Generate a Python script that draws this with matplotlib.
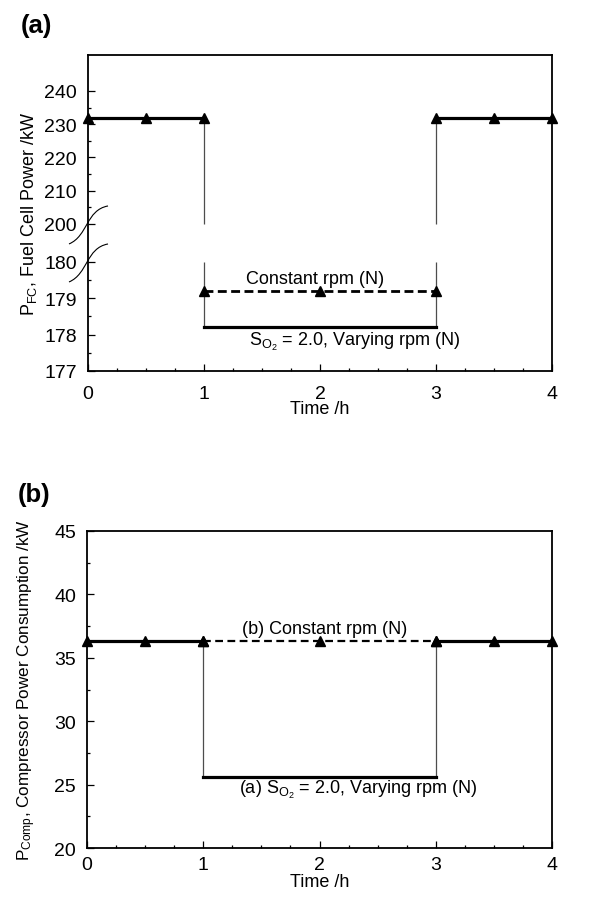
import numpy as np
import matplotlib
matplotlib.use("Agg")
import matplotlib.pyplot as plt
from matplotlib import transforms as mtransforms
from matplotlib.path import Path
from matplotlib.patches import PathPatch
from matplotlib.ticker import FixedLocator

plt.rcParams["font.family"] = ["Liberation Sans", "DejaVu Sans"]
plt.rcParams["mathtext.fontset"] = "custom"
plt.rcParams["mathtext.rm"] = "Liberation Sans"
plt.rcParams["mathtext.it"] = "Liberation Sans:italic"
plt.rcParams["mathtext.default"] = "regular"

# ---- data -------------------------------------------------------------
t_start = [0, 0.5, 1]          # nominal load, first hour
t_mid = [1, 2, 3]              # reduced load period
t_end = [3, 3.5, 4]            # nominal load, last hour

pfc_nominal = 232.0            # fuel cell power at nominal load /kW
pfc_const_rpm = 179.2          # reduced load, constant compressor speed
pfc_vary_rpm = 178.2           # reduced load, S_O2 = 2.0 with varying speed

pcomp_nominal = 36.3           # compressor power at nominal load /kW
pcomp_const_rpm = 36.3
pcomp_vary_rpm = 25.6

time_ticks = [0, 1, 2, 3, 4]
pfc_ticks = [177, 178, 179, 180, 200, 210, 220, 230, 240]
pfc_minor = [177.5, 178.5, 179.5, 205, 215, 225, 235]
pcomp_ticks = [20, 25, 30, 35, 40, 45]
pcomp_minor = [22.5, 27.5, 32.5, 37.5, 42.5]
break_levels = [180, 200]

# broken fuel-cell axis: 177-180 stretched, gap 180-200, then 200-250
brk_vals = [150.0, 177.0, 180.0, 200.0, 240.0, 260.0]
brk_pos = [-981.0, 0.0, 109.0, 147.0, 280.0, 346.5]


def fwd(v):
    return np.interp(v, brk_vals, brk_pos)


def inv(p):
    return np.interp(p, brk_pos, brk_vals)


W, H = 589, 904
fig = plt.figure(figsize=(W / 100, H / 100), dpi=100)
ax1 = fig.add_axes([88 / W, 1 - 372 / H, 464 / W, 316 / H])
ax2 = fig.add_axes([87 / W, 1 - 849 / H, 465 / W, 317 / H])

FS = 13
TICK_FS = 14
THICK = 2.3
MS = 7
vcol = "0.3"


def style(ax, xpad):
    for s in ax.spines.values():
        s.set_linewidth(1.3)
    ax.set_xlim(0, 4)
    ax.set_xticks(time_ticks)
    ax.xaxis.set_minor_locator(FixedLocator(np.arange(0, 4.01, 0.25)))
    ax.tick_params(which="both", direction="in", top=False, right=False,
                   labelsize=TICK_FS, width=0.9)
    ax.tick_params(which="major", length=5)
    ax.tick_params(which="minor", length=2.5)
    ax.tick_params(axis="y", pad=8)
    ax.tick_params(axis="x", pad=xpad)


# ---- (a) fuel cell power ---------------------------------------------
ax1.set_yscale("function", functions=(fwd, inv))
ax1.set_ylim(177, 250.8)
style(ax1, 10)
ax1.set_yticks(pfc_ticks)
ax1.set_yticklabels([str(v) for v in pfc_ticks])
ax1.yaxis.set_minor_locator(FixedLocator(pfc_minor))

ax1.vlines([t_mid[0], t_mid[-1]], pfc_vary_rpm, break_levels[0], color=vcol, lw=0.9)
ax1.vlines([t_mid[0], t_mid[-1]], break_levels[1], pfc_nominal, color=vcol, lw=0.9)
ax1.plot(t_start, [pfc_nominal] * 3, color="k", lw=THICK, marker="^", ms=MS,
         clip_on=False, zorder=5)
ax1.plot(t_end, [pfc_nominal] * 3, color="k", lw=THICK, marker="^", ms=MS,
         clip_on=False, zorder=5)
ax1.plot(t_mid, [pfc_const_rpm] * 3, color="k", lw=2.0, ls=(0, (3.2, 1.6)),
         marker="^", ms=MS, zorder=5)
ax1.plot([t_mid[0], t_mid[-1]], [pfc_vary_rpm] * 2, color="k", lw=THICK, zorder=5)

ax1.annotate("Constant rpm (N)", (1.96, pfc_const_rpm), xytext=(0, 3),
             textcoords="offset points", ha="center", va="bottom", fontsize=FS)
ax1.annotate("S$_{O_2}$ = 2.0, Varying rpm (N)", (2.30, pfc_vary_rpm),
             xytext=(0, -2), textcoords="offset points", ha="center", va="top",
             fontsize=FS)

ax1.set_xlabel("Time /h", fontsize=FS, labelpad=-1)
ax1.set_ylabel("P$_{FC}$, Fuel Cell Power /kW", fontsize=FS)
ax1.yaxis.set_label_coords(-0.105, 0.5)

# break marks across the left spine
curve = Path([(-0.19, -0.20), (0.0, -0.12), (-0.02, 0.14), (0.20, 0.18)],
             [Path.MOVETO, Path.CURVE4, Path.CURVE4, Path.CURVE4])
for lvl in break_levels:
    tr = fig.dpi_scale_trans + mtransforms.ScaledTranslation(
        0, lvl, ax1.get_yaxis_transform())
    ax1.add_patch(PathPatch(curve, transform=tr, fill=False, lw=0.8,
                            ec="k", clip_on=False, zorder=6))

# ---- (b) compressor power --------------------------------------------
ax2.set_ylim(20, 45)
style(ax2, 6)
ax2.set_yticks(pcomp_ticks)
ax2.yaxis.set_minor_locator(FixedLocator(pcomp_minor))

ax2.vlines([t_mid[0], t_mid[-1]], pcomp_vary_rpm, pcomp_nominal, color=vcol, lw=0.9)
ax2.plot(t_start, [pcomp_nominal] * 3, color="k", lw=THICK, marker="^", ms=MS,
         clip_on=False, zorder=5)
ax2.plot(t_end, [pcomp_nominal] * 3, color="k", lw=THICK, marker="^", ms=MS,
         clip_on=False, zorder=5)
ax2.plot(t_mid, [pcomp_const_rpm] * 3, color="k", lw=1.6, ls=(0, (3.5, 2)),
         marker="^", ms=MS, zorder=5)
ax2.plot([t_mid[0], t_mid[-1]], [pcomp_vary_rpm] * 2, color="k", lw=THICK, zorder=5)

ax2.annotate("(b) Constant rpm (N)", (2.04, pcomp_const_rpm), xytext=(0, 3),
             textcoords="offset points", ha="center", va="bottom", fontsize=FS)
ax2.annotate("(a) S$_{O_2}$ = 2.0, Varying rpm (N)", (2.33, pcomp_vary_rpm),
             xytext=(0, -1), textcoords="offset points", ha="center", va="top",
             fontsize=FS)

ax2.set_xlabel("Time /h", fontsize=FS, labelpad=0)
ax2.set_ylabel("P$_{Comp}$, Compressor Power Consumption /kW", fontsize=12.3)
ax2.yaxis.set_label_coords(-0.105, 0.5)

# panel letters
fig.text(21 / W, 1 - 33 / H, "(a)", fontsize=18.5, fontweight="bold")
fig.text(18 / W, 1 - 502 / H, "(b)", fontsize=18.5, fontweight="bold")

fig.savefig("out.png", dpi=100)
